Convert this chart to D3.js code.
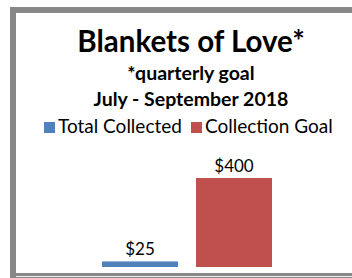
<!DOCTYPE html>
<meta charset="utf-8">
<script src="https://d3js.org/d3.v7.min.js"></script>
<style>
body { margin: 0; background: #fff; }
text { font-family: Lato, "Open Sans", sans-serif; fill: #000; }
</style>
<body>
<script>
// chart data
var categories = ["Total Collected", "Collection Goal"],
    values = [25, 400],
    colors = ["#4F81BD", "#C0504D"],
    labels = ["$25", "$400"];

var width = 352,
    height = 278;

var svg = d3.select("body").append("svg")
    .attr("width", width)
    .attr("height", height);

// frame of the chart (cropped on the right)
svg.append("rect")
    .attr("x", 13).attr("y", 10)
    .attr("width", 400).attr("height", 266)
    .attr("fill", "#fff")
    .attr("stroke", "#888")
    .attr("stroke-width", 6);
svg.append("line")
    .attr("x1", 16).attr("x2", width)
    .attr("y1", 276.5).attr("y2", 276.5)
    .attr("stroke", "#eee");

var cx = 191;

svg.append("text")
    .attr("x", cx).attr("y", 52)
    .attr("text-anchor", "middle")
    .style("font-weight", "bold")
    .style("font-size", "29.5px")
    .text("Blankets of Love*");

svg.append("text")
    .attr("x", cx).attr("y", 80)
    .attr("text-anchor", "middle")
    .style("font-weight", "bold")
    .style("font-size", "19.5px")
    .text("*quarterly goal");

svg.append("text")
    .attr("x", cx).attr("y", 106)
    .attr("text-anchor", "middle")
    .style("font-weight", "bold")
    .style("font-size", "19.5px")
    .text("July - September 2018");

// legend
var legendX = [44, 191];
var lg = svg.selectAll("g.legend")
    .data(categories)
    .enter().append("g")
    .attr("class", "legend")
    .attr("transform", function(d, i) { return "translate(" + legendX[i] + ",122)"; });
lg.append("rect")
    .attr("width", 11).attr("height", 11)
    .attr("fill", function(d, i) { return colors[i]; });
lg.append("text")
    .attr("x", 14).attr("y", 10.5)
    .style("font-size", "19px")
    .text(function(d) { return d; });

var x = d3.scaleBand()
    .domain(categories)
    .range([102, 272])
    .paddingInner(18 / 94)
    .paddingOuter(0);

var y = d3.scaleLinear()
    .domain([0, 400])
    .range([267, 178]);

svg.selectAll("rect.bar")
    .data(values)
    .enter().append("rect")
    .attr("class", "bar")
    .attr("x", function(d, i) { return x(categories[i]); })
    .attr("y", function(d) { return y(d); })
    .attr("width", x.bandwidth())
    .attr("height", function(d) { return y(0) - y(d); })
    .attr("fill", function(d, i) { return colors[i]; });

svg.selectAll("text.label")
    .data(values)
    .enter().append("text")
    .attr("class", "label")
    .attr("x", function(d, i) { return x(categories[i]) + x.bandwidth() / 2; })
    .attr("y", function(d) { return y(d) - 6; })
    .attr("text-anchor", "middle")
    .style("font-size", "17px")
    .text(function(d, i) { return labels[i]; });
</script>
</body>
